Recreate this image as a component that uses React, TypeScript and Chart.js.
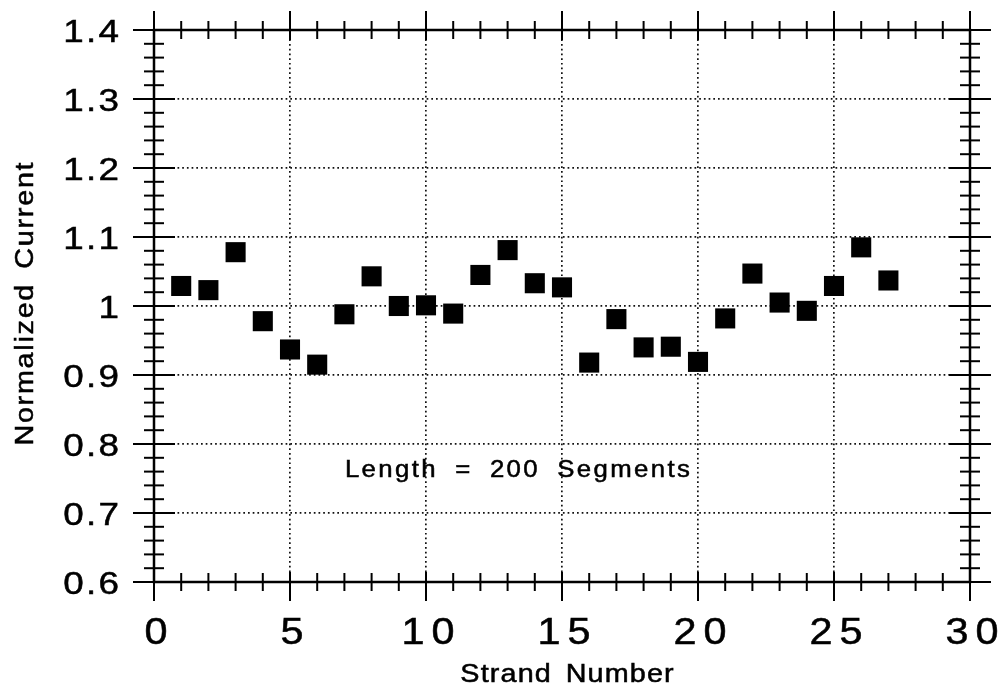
import React, { useEffect, useRef } from "react";
import { Chart, registerables } from "chart.js";

Chart.register(...registerables);

// ---- data ----
const strandNumbers = [1, 2, 3, 4, 5, 6, 7, 8, 9, 10, 11, 12, 13, 14, 15, 16, 17, 18, 19, 20, 21, 22, 23, 24, 25, 26, 27];
const normalizedCurrent = [
  1.029, 1.023, 1.078, 0.978, 0.937, 0.915, 0.988, 1.043, 1.0, 1.001, 0.989, 1.045, 1.081, 1.033,
  1.027, 0.918, 0.981, 0.94, 0.941, 0.919, 0.982, 1.047, 1.005, 0.993, 1.029, 1.085, 1.037,
];
const xMajorTicks = [0, 5, 10, 15, 20, 25, 30];
const xTickLabels = ["0", "5", "10", "15", "20", "25", "30"];
const yMajorTicks = [0.6, 0.7, 0.8, 0.9, 1.0, 1.1, 1.2, 1.3, 1.4];
const yTickLabels = ["0.6", "0.7", "0.8", "0.9", "1", "1.1", "1.2", "1.3", "1.4"];
const xMinorStep = 1;
const yMinorStep = 0.02;
const xTitle = "Strand Number";
const yTitle = "Normalized Current";
const annotationText = "Length = 200 Segments";
const annotationX = 7.02;
const annotationY = 0.752;

const FONT = "'Liberation Sans', Arial, Helvetica, sans-serif";
const HSCALE = 1.15;

function drawSpaced(
  ctx: CanvasRenderingContext2D,
  text: string,
  x: number,
  y: number,
  align: "left" | "center" | "right",
  ls: number,
  ws = 0,
  hs = HSCALE
) {
  (ctx as any).letterSpacing = "0px";
  (ctx as any).wordSpacing = "0px";
  const w0 = ctx.measureText(text).width;
  const spaces = (text.match(/ /g) || []).length;
  const w = (w0 + (text.length - 1) * ls + spaces * ws) * hs;
  const sx = align === "left" ? x : align === "center" ? x - w / 2 : x - w;
  ctx.save();
  ctx.translate(sx, y);
  ctx.scale(hs, 1);
  (ctx as any).letterSpacing = ls + "px";
  (ctx as any).wordSpacing = ws + "px";
  ctx.textAlign = "left";
  ctx.fillText(text, 0, 0);
  ctx.strokeText(text, 0, 0);
  ctx.restore();
  (ctx as any).letterSpacing = "0px";
  (ctx as any).wordSpacing = "0px";
}

const near = (arr: number[], v: number) => arr.some((m) => Math.abs(m - v) < 1e-6);

const framePlugin = {
  id: "framePlugin",
  afterDraw(chart: any) {
    const { ctx, chartArea: a, scales } = chart;
    const x = scales.x;
    const y = scales.y;
    ctx.save();
    ctx.strokeStyle = "#000";
    ctx.fillStyle = "#000";
    ctx.lineCap = "butt";

    const line = (x1: number, y1: number, x2: number, y2: number) => {
      ctx.beginPath();
      ctx.moveTo(x1, y1);
      ctx.lineTo(x2, y2);
      ctx.stroke();
    };

    // ticks
    ctx.lineWidth = 2;
    x.ticks.forEach((t: any) => {
      const px = x.getPixelForValue(t.value);
      const major = near(xMajorTicks, t.value);
      const out = major ? 19 : 9;
      const inn = major ? 10 : 9;
      line(px, a.bottom - inn, px, a.bottom + out);
      line(px, a.top - out, px, a.top + inn);
    });
    y.ticks.forEach((t: any) => {
      const py = y.getPixelForValue(t.value);
      const major = near(yMajorTicks, t.value);
      const len = major ? 21 : 10;
      line(a.left - len, py, a.left + len, py);
      line(a.right - len, py, a.right + len, py);
    });

    // frame
    ctx.lineWidth = 2.5;
    ctx.strokeRect(a.left, a.top, a.right - a.left, a.bottom - a.top);

    ctx.lineWidth = 0.5;
    ctx.textBaseline = "alphabetic";

    // y tick labels
    ctx.font = `32px ${FONT}`;
    yMajorTicks.forEach((v, i) => {
      const py = y.getPixelForValue(v);
      drawSpaced(ctx, yTickLabels[i], a.left - 35, py + 11.5, "right", 2);
    });

    // x tick labels
    ctx.font = `36px ${FONT}`;
    xMajorTicks.forEach((v, i) => {
      const px = x.getPixelForValue(v);
      drawSpaced(ctx, xTickLabels[i], px + 2, a.bottom + 62, "center", 6);
    });

    // x title
    ctx.font = `25px ${FONT}`;
    drawSpaced(ctx, xTitle, (a.left + a.right) / 2 + 5, a.bottom + 100, "center", 1, 4);

    // y title
    ctx.save();
    ctx.translate(33, 304);
    ctx.rotate(-Math.PI / 2);
    ctx.font = `25px ${FONT}`;
    drawSpaced(ctx, yTitle, 0, 0, "center", 1.5, 4);
    ctx.restore();

    // annotation
    ctx.font = `23px ${FONT}`;
    drawSpaced(
      ctx,
      annotationText,
      x.getPixelForValue(annotationX),
      y.getPixelForValue(annotationY),
      "left",
      2.1,
      7,
      1.12
    );

    ctx.restore();
  },
};

export default function App() {
  const canvasRef = useRef<HTMLCanvasElement | null>(null);

  useEffect(() => {
    const canvas = canvasRef.current;
    if (!canvas) return;
    const chart = new Chart(canvas, {
      type: "scatter",
      data: {
        datasets: [
          {
            data: strandNumbers.map((s, i) => ({ x: s, y: normalizedCurrent[i] })),
            pointStyle: "rect",
            pointRadius: 14.2,
            pointHoverRadius: 14.2,
            pointBackgroundColor: "#000",
            pointBorderWidth: 0,
            borderWidth: 0,
          },
        ],
      },
      options: {
        responsive: false,
        animation: false,
        events: [],
        layout: { padding: { left: 154, right: 35, top: 30, bottom: 107 } },
        plugins: {
          legend: { display: false },
          tooltip: { enabled: false },
        },
        scales: {
          x: {
            type: "linear",
            min: 0,
            max: 30,
            ticks: { display: false, stepSize: xMinorStep },
            grid: {
              drawTicks: false,
              lineWidth: 1.7,
              color: (c: any) => (near(xMajorTicks, c.tick?.value) ? "#111" : "rgba(0,0,0,0)"),
            },
            border: { display: false, dash: [1.7, 3] },
          },
          y: {
            type: "linear",
            min: 0.6,
            max: 1.4,
            ticks: { display: false, stepSize: yMinorStep },
            grid: {
              drawTicks: false,
              lineWidth: 1.7,
              color: (c: any) => (near(yMajorTicks, c.tick?.value) ? "#111" : "rgba(0,0,0,0)"),
            },
            border: { display: false, dash: [1.7, 3] },
          },
        },
      },
      plugins: [framePlugin],
    });
    return () => chart.destroy();
  }, []);

  return (
    <div style={{ position: "fixed", left: 0, top: 0, width: 1005, height: 689, background: "#fff" }}>
      <canvas ref={canvasRef} width={1005} height={689} style={{ display: "block" }} />
    </div>
  );
}
